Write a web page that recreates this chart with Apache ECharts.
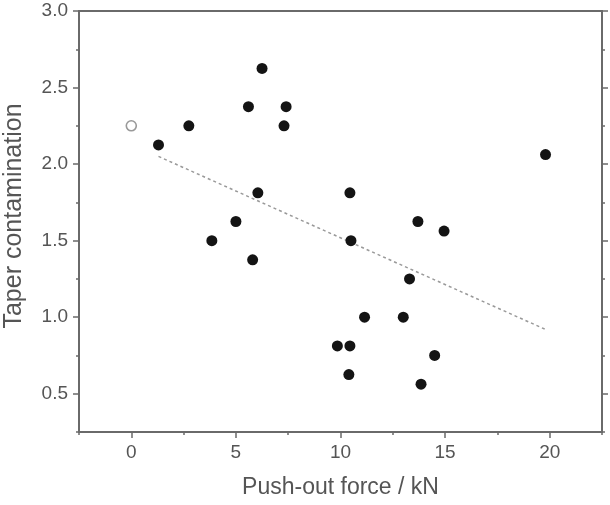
<!DOCTYPE html>
<html>
<head>
<meta charset="utf-8">
<script src="https://cdn.jsdelivr.net/npm/echarts@6/dist/echarts.min.js"></script>
<style>
  html, body { margin: 0; padding: 0; background: #fff; }
  #chart { width: 610px; height: 505px; }
</style>
</head>
<body>
<div id="chart"></div>
<script>
// push-out force (kN) vs taper contamination score
const forceKN = [1.3, 2.75, 3.85, 5.0, 5.6, 5.8, 6.05, 6.25, 7.3, 7.4,
  9.85, 10.4, 10.45, 10.45, 10.5, 11.15, 13.0, 13.3, 13.7, 13.85, 14.5, 14.95, 19.8]
const contamination = [2.125, 2.25, 1.5, 1.625, 2.375, 1.375, 1.8125, 2.625, 2.25, 2.375,
  0.8125, 0.625, 0.8125, 1.8125, 1.5, 1.0, 1.0, 1.25, 1.625, 0.5625, 0.75, 1.5625, 2.0625]
// the single hollow point
const openForce = [0]
const openContamination = [2.25]
// dotted trend line end points
const trendForce = [1.3, 19.8]
const trendContamination = [2.05, 0.92]

const xTickLabels = [0, 5, 10, 15, 20]
const yTickLabels = [0.5, 1.0, 1.5, 2.0, 2.5, 3.0]

const axisColor = '#6a6a6a'
const textColor = '#555'
const font = 'Liberation Sans'

const myChart = echarts.init(document.getElementById('chart'))

const zip = (a, b) => a.map((v, i) => [v, b[i]])

// shared pieces for overlaid axes
const xRange = { type: 'value', min: -2.5, max: 22.5, interval: 2.5, splitLine: { show: false } }
const yRange = { type: 'value', min: 0.25, max: 3, interval: 0.25, splitLine: { show: false } }
const line = { show: true, onZero: false, lineStyle: { color: axisColor, width: 2 } }
const noLine = { show: false, onZero: false }
const minorTicks = { show: true, length: 3, lineStyle: { color: axisColor, width: 1.5 } }
const majorTicks = (vals) => ({ show: true, length: 6, customValues: vals, lineStyle: { color: axisColor, width: 1.5 } })

const option = {
  backgroundColor: '#fff',
  animation: false,
  grid: { left: 79, right: 8, top: 11, bottom: 73, outerBoundsMode: 'none', containLabel: false },
  xAxis: [
    {
      ...xRange,
      position: 'bottom',
      axisLine: line,
      axisTick: minorTicks,
      axisLabel: {
        customValues: xTickLabels,
        color: textColor, fontSize: 19, fontFamily: font, margin: 11
      },
      name: 'Push-out force / kN',
      nameLocation: 'middle',
      nameGap: 44,
      nameTextStyle: { color: textColor, fontSize: 23, fontFamily: font }
    },
    {
      ...xRange,
      position: 'bottom',
      axisLine: noLine,
      axisTick: majorTicks(xTickLabels),
      axisLabel: { show: false }
    },
    {
      ...xRange,
      position: 'top',
      axisLine: line,
      axisTick: { show: false },
      axisLabel: { show: false }
    }
  ],
  yAxis: [
    {
      ...yRange,
      position: 'left',
      axisLine: line,
      axisTick: minorTicks,
      axisLabel: {
        customValues: yTickLabels,
        formatter: v => v.toFixed(1),
        color: textColor, fontSize: 19, fontFamily: font, margin: 11
      },
      name: 'Taper contamination',
      nameLocation: 'middle',
      nameGap: 52,
      nameTextStyle: { color: textColor, fontSize: 25, fontFamily: font, padding: [0, 0, 0, 11] }
    },
    {
      ...yRange,
      position: 'left',
      axisLine: noLine,
      axisTick: majorTicks(yTickLabels),
      axisLabel: { show: false }
    },
    {
      ...yRange,
      position: 'right',
      axisLine: line,
      axisTick: minorTicks,
      axisLabel: { show: false }
    },
    {
      ...yRange,
      position: 'right',
      axisLine: noLine,
      axisTick: majorTicks(yTickLabels),
      axisLabel: { show: false }
    }
  ],
  series: [
    {
      type: 'line',
      data: zip(trendForce, trendContamination),
      symbol: 'none',
      lineStyle: { color: '#999', width: 1.5, type: [3, 3] },
      z: 1
    },
    {
      type: 'scatter',
      data: zip(forceKN, contamination),
      symbolSize: 11,
      itemStyle: { color: '#141414', opacity: 1 },
      z: 3
    },
    {
      type: 'scatter',
      data: zip(openForce, openContamination),
      symbolSize: 10,
      itemStyle: { color: '#fff', borderColor: '#999', borderWidth: 1.6, opacity: 1 },
      z: 3
    }
  ]
}

myChart.setOption(option)
window.addEventListener('resize', () => myChart.resize())
</script>
</body>
</html>
